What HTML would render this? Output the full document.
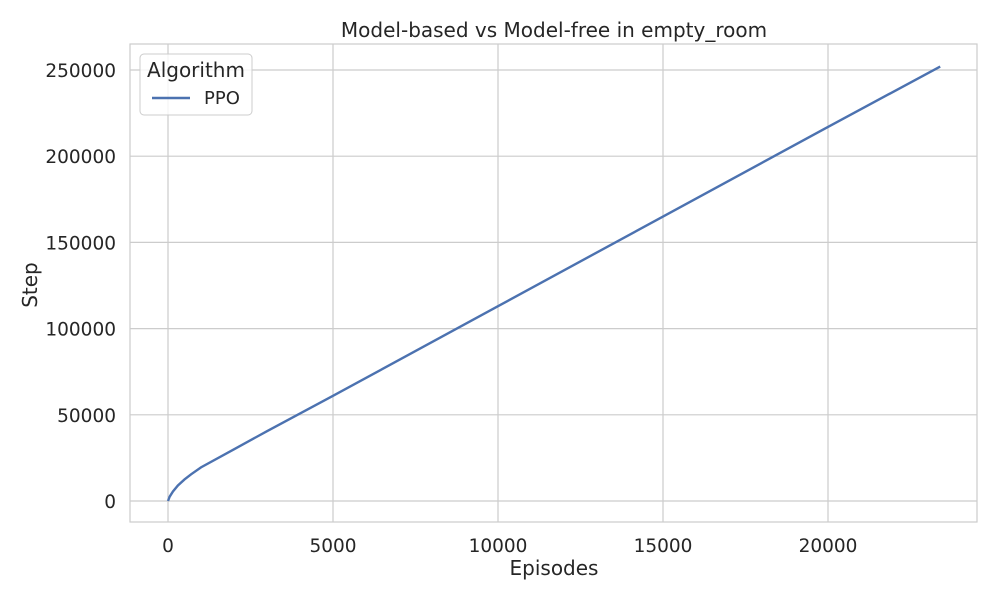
<!DOCTYPE html>
<html><head><meta charset="utf-8"><style>
body{margin:0;background:#fff;font-family:"DejaVu Sans","Liberation Sans",sans-serif;}
</style></head><body>
<svg id="chart" width="1000" height="600" xmlns="http://www.w3.org/2000/svg" font-family="DejaVu Sans, Liberation Sans, sans-serif">
<rect width="1000" height="600" fill="#fff"/>
<g id="grid"></g>
<rect x="130" y="44" width="847" height="478" fill="none" stroke="#ccc" stroke-width="1.2"/>
<g id="ticks" font-size="18.5" fill="#262626"></g>
<path id="line" fill="none" stroke="#4c72b0" stroke-width="2.4"/>
<text x="554" y="37" text-anchor="middle" font-size="20" fill="#262626">Model-based vs Model-free in empty_room</text>
<text x="554" y="575" text-anchor="middle" font-size="20" fill="#262626">Episodes</text>
<text x="37" y="285" text-anchor="middle" font-size="20" fill="#262626" transform="rotate(-90 37 285)">Step</text>
<g>
<rect x="140" y="54" width="112" height="61" rx="4" fill="#fff" fill-opacity="0.8" stroke="#ccc"/>
<text x="196" y="77" text-anchor="middle" font-size="20" fill="#262626">Algorithm</text>
<line x1="152" y1="98" x2="190" y2="98" stroke="#4c72b0" stroke-width="2.4"/>
<text x="204" y="104" font-size="18" fill="#262626">PPO</text>
</g>
</svg>
<script>
const episodes=[0,50,150,300,500,700,1000,2000,3000,5000,10000,15000,20000,23400];
const steps=[0,2500,5500,9000,12500,15500,19500,30000,40500,61000,113000,165000,217000,252000];
const xTicks=[0,5000,10000,15000,20000];
const yTicks=[0,50000,100000,150000,200000,250000];
const X=v=>168+v*(165/5000);
const Y=v=>501-v*(86.2/50000);
const ns="http://www.w3.org/2000/svg";
const grid=document.getElementById('grid'),ticks=document.getElementById('ticks');
xTicks.forEach(t=>{
 const l=document.createElementNS(ns,'line');
 l.setAttribute('x1',X(t));l.setAttribute('x2',X(t));l.setAttribute('y1',44);l.setAttribute('y2',522);
 l.setAttribute('stroke','#ccc');l.setAttribute('stroke-width','1.2');
 
 
 grid.appendChild(l);
 const s=document.createElementNS(ns,'text');
 s.setAttribute('x',X(t));s.setAttribute('y',552);s.setAttribute('text-anchor','middle');s.textContent=t;
 
 
 ticks.appendChild(s);
});
yTicks.forEach(t=>{
 const l=document.createElementNS(ns,'line');
 l.setAttribute('x1',130);l.setAttribute('x2',977);l.setAttribute('y1',Y(t));l.setAttribute('y2',Y(t));
 l.setAttribute('stroke','#ccc');l.setAttribute('stroke-width','1.2');
 
 
 grid.appendChild(l);
 const s=document.createElementNS(ns,'text');
 s.setAttribute('x',116);s.setAttribute('y',Y(t)+7);s.setAttribute('text-anchor','end');s.textContent=t;
 
 
 ticks.appendChild(s);
});
document.getElementById('line').setAttribute('d',episodes.map((e,i)=>(i?'L':'M')+X(e)+' '+Y(steps[i])).join(' '));
</script>
</body></html>
